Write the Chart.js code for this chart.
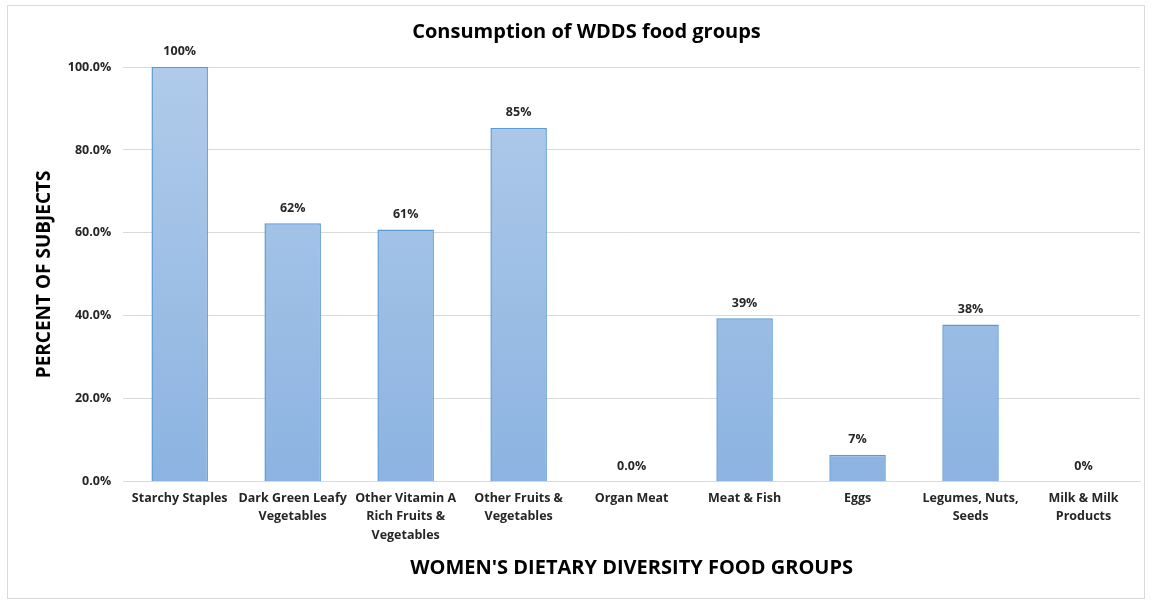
<!DOCTYPE html>
<html>
<head>
<meta charset="utf-8">
<script src="https://cdn.jsdelivr.net/npm/chart.js@4.4.1/dist/chart.umd.min.js"></script>
<style>
    html, body { margin: 0; padding: 0; background: #ffffff; }
    .frame {
        position: absolute;
        left: 7px; top: 5px;
        width: 1138px; height: 594px;
        border: 1px solid #d9d9d9;
        box-sizing: border-box;
    }
    .wrap { position: absolute; left: 0; top: 0; width: 1154px; height: 605px; }
</style>
</head>
<body>
<div class="frame"></div>
<div class="wrap"><canvas id="chart" width="1154" height="605"></canvas></div>
<script>
const categories = [
    'Starchy Staples',
    ['Dark Green Leafy', 'Vegetables'],
    ['Other Vitamin A', 'Rich Fruits &', 'Vegetables'],
    ['Other Fruits &', 'Vegetables'],
    'Organ Meat',
    'Meat & Fish',
    'Eggs',
    ['Legumes, Nuts,', 'Seeds'],
    ['Milk & Milk', 'Products'],
];
const percentValues = [100, 62.3, 60.8, 85.3, 0, 39.4, 6.5, 37.9, 0];
const valueLabels = ['100%', '62%', '61%', '85%', '0.0%', '39%', '7%', '38%', '0%'];
const yTicks = [0, 20, 40, 60, 80, 100];

const FONT = "'Open Sans', 'Liberation Sans', sans-serif";

// etichette sopra le barre, come nel grafico originale
const valueLabelPlugin = {
    id: 'valueLabels',
    afterDatasetsDraw(chart) {
        const ctx = chart.ctx;
        const meta = chart.getDatasetMeta(0);
        ctx.save();
        ctx.font = 'bold 12.5px ' + FONT;
        ctx.fillStyle = '#262626';
        ctx.textAlign = 'center';
        ctx.textBaseline = 'bottom';
        meta.data.forEach(function (bar, i) {
            ctx.fillText(valueLabels[i], bar.x, bar.y - 9);
        });
        ctx.restore();
    },
};

function barGradient(context) {
    const area = context.chart.chartArea;
    if (!area) {
        return '#9dbfe6';
    }
    const g = context.chart.ctx.createLinearGradient(0, area.top, 0, area.bottom);
    g.addColorStop(0, '#b0cbea');
    g.addColorStop(1, '#8cb3e1');
    return g;
}

new Chart(document.getElementById('chart'), {
    type: 'bar',
    data: {
        labels: categories,
        datasets: [
            {
                data: percentValues,
                backgroundColor: barGradient,
                borderColor: '#5b9bd5',
                borderWidth: 1.5,
                barPercentage: 0.5,
                categoryPercentage: 1.0,
            },
        ],
    },
    options: {
        responsive: false,
        animation: false,
        devicePixelRatio: 1,
        layout: { padding: { left: 33, right: 14, top: 14, bottom: 25 } },
        plugins: {
            legend: { display: false },
            tooltip: { enabled: false },
            title: {
                display: true,
                text: 'Consumption of WDDS food groups',
                color: '#000000',
                font: { family: FONT, size: 20, weight: 'bold' },
                padding: { top: 6, bottom: 23 },
            },
        },
        scales: {
            x: {
                grid: { display: false, drawTicks: false },
                border: { display: true, color: '#d9d9d9', width: 1 },
                ticks: {
                    color: '#262626',
                    font: { family: FONT, size: 12.5, weight: 'bold', lineHeight: 1.5 },
                    maxRotation: 0,
                    autoSkip: false,
                    padding: 7,
                },
                title: {
                    display: true,
                    text: "WOMEN'S DIETARY DIVERSITY FOOD GROUPS",
                    color: '#000000',
                    font: { family: FONT, size: 20, weight: 'bold' },
                    padding: { top: 4, bottom: 0 },
                },
            },
            y: {
                min: 0,
                max: 100,
                afterBuildTicks: function (axis) {
                    axis.ticks = yTicks.map(function (v) { return { value: v }; });
                },
                grid: { color: '#d9d9d9', drawTicks: false },
                border: { display: false },
                ticks: {
                    color: '#262626',
                    font: { family: FONT, size: 12.5, weight: 'bold' },
                    padding: 12,
                    callback: function (val) {
                        return Number(val).toFixed(1) + '%';
                    },
                },
                title: {
                    display: true,
                    text: 'PERCENT OF SUBJECTS',
                    color: '#000000',
                    font: { family: FONT, size: 19, weight: 'bold' },
                    padding: { top: 0, bottom: 0 },
                },
            },
        },
    },
    plugins: [valueLabelPlugin],
});
</script>
</body>
</html>
